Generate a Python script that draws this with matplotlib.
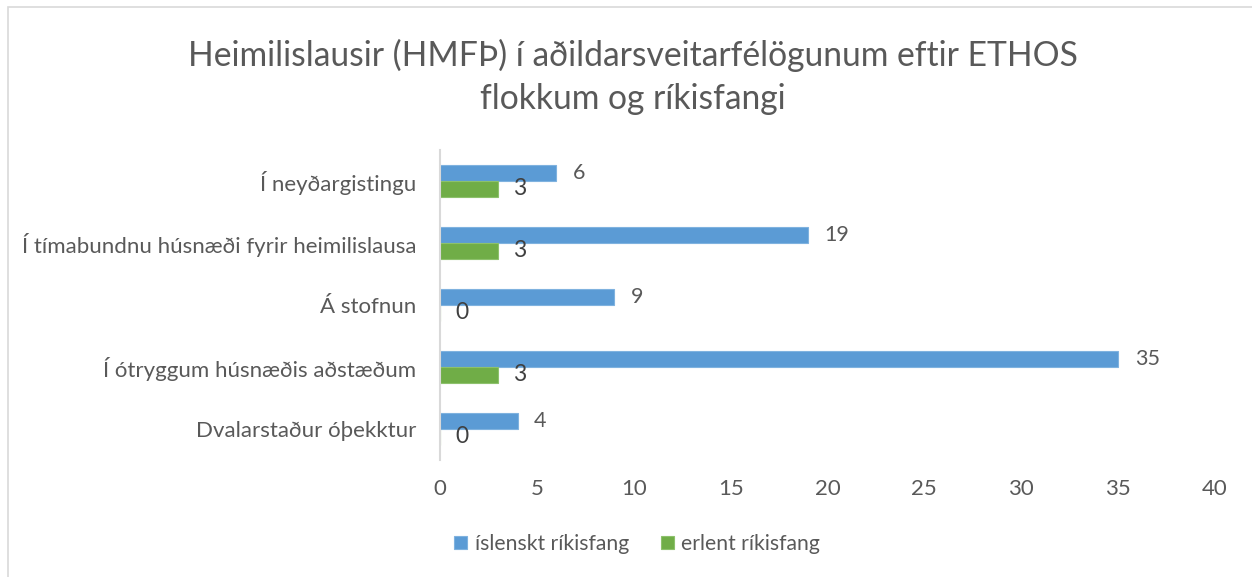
import matplotlib
matplotlib.use("Agg")
import matplotlib.pyplot as plt
from matplotlib.patches import Rectangle
import numpy as np

categories = ["Í neyðargistingu", "Í tímabundnu húsnæði fyrir heimilislausa",
              "Á stofnun", "Í ótryggum húsnæðis aðstæðum", "Dvalarstaður óþekktur"]
islenskt = [6, 19, 9, 35, 4]
erlent = [3, 3, 0, 3, 0]
series_names = ["íslenskt ríkisfang", "erlent ríkisfang"]
xticks = [0, 5, 10, 15, 20, 25, 30, 35, 40]
title = "Heimilislausir (HMFÞ) í aðildarsveitarfélögunum eftir ETHOS\nflokkum og ríkisfangi"

plt.rcParams['font.family'] = ['Lato', 'DejaVu Sans']
W, H = 1252, 577
fig = plt.figure(figsize=(W / 100, H / 100), dpi=100)
fig.patch.set_facecolor("white")

# chart border
fig.add_artist(Rectangle((8 / W, -0.1), 1.2, 1 - 7 / H + 0.1, transform=fig.transFigure,
                         fill=False, edgecolor="#D9D9D9", linewidth=1.2))

ax = fig.add_axes([440 / W, 1 - 460 / H, (1215 - 440) / W, (460 - 150) / H])
y = np.arange(len(categories))
h = 0.258
blue = "#5B9BD5"
green = "#70AD47"
b1 = ax.barh(y - h / 2, islenskt, height=h, color=blue, edgecolor="#7FB2DF", linewidth=0.8,
             label=series_names[0])
b2 = ax.barh(y + h / 2, erlent, height=h, color=green, edgecolor="#8DC16C", linewidth=0.8,
             label=series_names[1])

for yi, v in zip(y, islenskt):
    ax.annotate(str(v), (v, yi - h / 2), xytext=(12, 0), textcoords="offset points",
                ha="left", va="center", fontsize=15.5, color="#595959")
for yi, v in zip(y, erlent):
    ax.annotate(str(v), (v, yi + h / 2), xytext=(11, 0), textcoords="offset points",
                ha="left", va="center", fontsize=16.5, color="#404040")

ax.set_xlim(0, 40)
ax.set_ylim(len(categories) - 0.5, -0.5)
ax.set_xticks(xticks)
ax.set_xticklabels([str(t) for t in xticks])
ax.set_yticks(y)
ax.set_yticklabels(categories)
ax.tick_params(axis="both", length=0, labelsize=16.0, labelcolor="#595959")
ax.tick_params(axis="x", pad=14)
ax.tick_params(axis="y", pad=17)
for s in ["top", "right", "bottom"]:
    ax.spines[s].set_visible(False)
ax.spines["left"].set_color("#D9D9D9")
ax.spines["left"].set_linewidth(1.5)

fig.text(633 / W, 1 - 77 / H, title, ha="center", va="center", fontsize=24.2,
         color="#595959", linespacing=1.42)

leg = fig.legend(handles=[b1, b2], loc="center", bbox_to_anchor=(637 / W, 1 - 544 / H),
                 ncol=2, frameon=False, fontsize=15.2, handlelength=0.62, handleheight=0.62,
                 handletextpad=0.35, columnspacing=1.5)
for t in leg.get_texts():
    t.set_color("#595959")

fig.savefig("out.png", dpi=100, facecolor="white")
